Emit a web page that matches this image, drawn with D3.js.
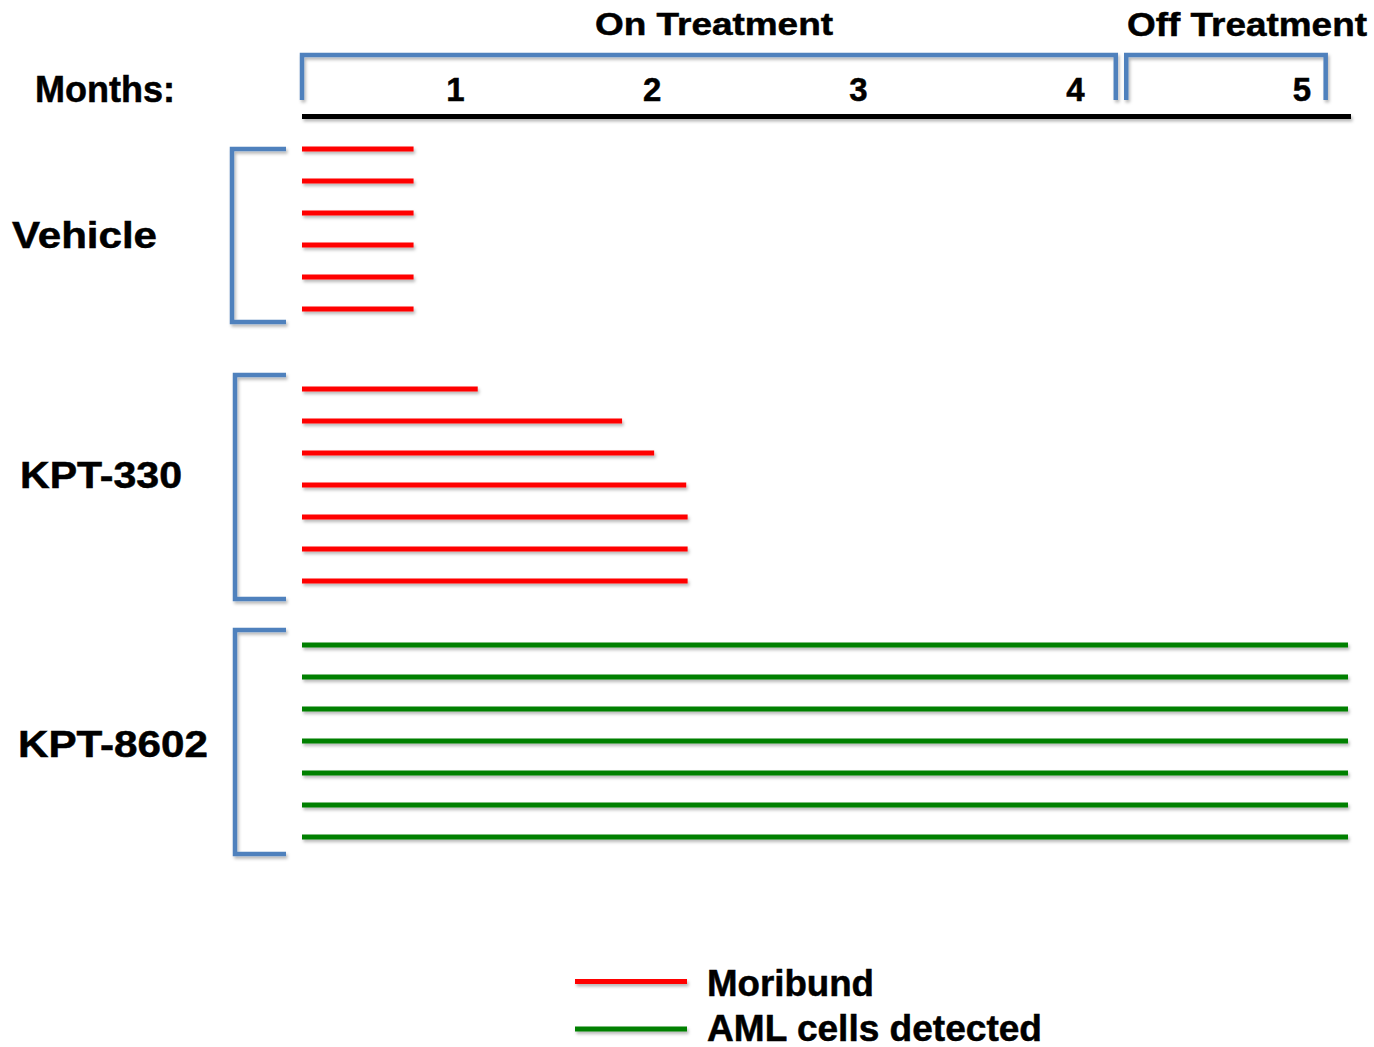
<!DOCTYPE html>
<html>
<head>
<meta charset="utf-8">
<script src="https://cdn.jsdelivr.net/npm/d3@7"></script>
<style>
  html, body { margin: 0; padding: 0; background: #fff; }
  svg { display: block; }
  text { font-family: "Liberation Sans", Arial, Helvetica, sans-serif; font-weight: bold; fill: #000; stroke: #000; stroke-width: 0.5px; }
</style>
</head>
<body>
<svg id="chart" width="1374" height="1047"></svg>
<script>
// ---------- data ----------
const monthLabels = ["1", "2", "3", "4", "5"];
const monthTickDays = [22, 50.2, 79.8, 110.9, 143.4];

const periodLabels = ["On Treatment", "Off Treatment"];
const periodStartDays = [0, 118.2];
const periodEndDays = [116.7, 146.8];

const groups = ["Vehicle", "KPT-330", "KPT-8602"];
const vehicleDays = [16, 16, 16, 16, 16, 16];
const kpt330Days = [25.2, 45.9, 50.5, 55.1, 55.3, 55.3, 55.3];
const kpt8602Days = [150, 150, 150, 150, 150, 150, 150];
const vehicleOutcome = ["Moribund", "Moribund", "Moribund", "Moribund", "Moribund", "Moribund"];
const kpt330Outcome = ["Moribund", "Moribund", "Moribund", "Moribund", "Moribund", "Moribund", "Moribund"];
const kpt8602Outcome = ["AML cells detected", "AML cells detected", "AML cells detected", "AML cells detected", "AML cells detected", "AML cells detected", "AML cells detected"];

const outcomes = ["Moribund", "AML cells detected"];
const outcomeColors = ["#ff0000", "#008000"];

// ---------- layout ----------
const svg = d3.select("#chart");
const blue = "#4f81bd";

const defs = svg.append("defs");
const f = defs.append("filter").attr("id", "shadow")
  .attr("filterUnits", "userSpaceOnUse")
  .attr("x", 0).attr("y", 0).attr("width", 1374).attr("height", 1047);
f.append("feDropShadow").attr("dx", 1.5).attr("dy", 2.5).attr("stdDeviation", 1.6)
  .attr("flood-color", "#000").attr("flood-opacity", 0.28);

const x = d3.scaleLinear().domain([0, 150]).range([302, 1348]);
const slot = d3.scaleLinear().domain([0, 1]).range([149, 181]);
const color = d3.scaleOrdinal().domain(outcomes).range(outcomeColors);

const groupDays = [vehicleDays, kpt330Days, kpt8602Days];
const groupOutcomes = [vehicleOutcome, kpt330Outcome, kpt8602Outcome];
const groupStartSlot = [0, 7.5, 15.5];
const bracketStyle = [
  { x: 232, topPad: 0, bottomPad: 13 },
  { x: 235, topPad: -14, bottomPad: 18 },
  { x: 235, topPad: -15, bottomPad: 17 }
];
const groupLabelStyle = [
  { x: 12, baseline: 247.5, len: 145 },
  { x: 20, baseline: 487.5, len: 162 },
  { x: 18, baseline: 757, len: 190 }
];

// ---------- period brackets ----------
const pg = svg.append("g").attr("filter", "url(#shadow)");
periodLabels.forEach((p, i) => {
  const x0 = x(periodStartDays[i]), x1 = x(periodEndDays[i]);
  pg.append("path")
    .attr("d", `M${x0},100 L${x0},55 L${x1},55 L${x1},100`)
    .attr("fill", "none").attr("stroke", blue).attr("stroke-width", 4.5);
});
svg.append("text").text(periodLabels[0])
  .attr("x", 595).attr("y", 34.5).attr("font-size", 31)
  .attr("textLength", 238).attr("lengthAdjust", "spacingAndGlyphs");
svg.append("text").text(periodLabels[1])
  .attr("x", 1127).attr("y", 36).attr("font-size", 33)
  .attr("textLength", 240).attr("lengthAdjust", "spacingAndGlyphs");

// ---------- months axis ----------
svg.append("text").text("Months:")
  .attr("x", 35).attr("y", 101.5).attr("font-size", 37)
  .attr("textLength", 140).attr("lengthAdjust", "spacingAndGlyphs");

svg.append("g").selectAll("text").data(monthLabels).join("text")
  .attr("x", (d, i) => x(monthTickDays[i]))
  .attr("y", 101).attr("text-anchor", "middle").attr("font-size", 33)
  .text(d => d);

svg.append("line")
  .attr("x1", x(0)).attr("x2", x(150) + 3)
  .attr("y1", 116.5).attr("y2", 116.5)
  .attr("stroke", "#000").attr("stroke-width", 5)
  .attr("filter", "url(#shadow)");

// ---------- groups ----------
groups.forEach((g, gi) => {
  const days = groupDays[gi];
  const outs = groupOutcomes[gi];
  const s0 = groupStartSlot[gi];
  const yFirst = slot(s0), yLast = slot(s0 + days.length - 1);
  const bs = bracketStyle[gi];
  const top = yFirst + bs.topPad, bottom = yLast + bs.bottomPad;

  svg.append("path")
    .attr("d", `M286,${top} L${bs.x},${top} L${bs.x},${bottom} L286,${bottom}`)
    .attr("fill", "none").attr("stroke", blue).attr("stroke-width", 4.5)
    .attr("filter", "url(#shadow)");

  svg.append("g").attr("filter", "url(#shadow)")
    .selectAll("line").data(days).join("line")
    .attr("x1", x(0)).attr("x2", d => x(d))
    .attr("y1", (d, i) => slot(s0 + i)).attr("y2", (d, i) => slot(s0 + i))
    .attr("stroke", (d, i) => color(outs[i])).attr("stroke-width", 5);

  const ls = groupLabelStyle[gi];
  svg.append("text").text(g)
    .attr("x", ls.x).attr("y", ls.baseline).attr("font-size", 36)
    .attr("textLength", ls.len).attr("lengthAdjust", "spacingAndGlyphs");
});

// ---------- legend ----------
const legendY = [981.5, 1029];
const legendTextY = [995.5, 1040.5];
const legendTextLen = [167, 335];
const lg = svg.append("g");
outcomes.forEach((o, i) => {
  lg.append("line")
    .attr("x1", 575).attr("x2", 687)
    .attr("y1", legendY[i]).attr("y2", legendY[i])
    .attr("stroke", color(o)).attr("stroke-width", 5)
    .attr("filter", "url(#shadow)");
  lg.append("text").text(o)
    .attr("x", 707).attr("y", legendTextY[i]).attr("font-size", 36)
    .attr("textLength", legendTextLen[i]).attr("lengthAdjust", "spacingAndGlyphs");
});
</script>
</body>
</html>
